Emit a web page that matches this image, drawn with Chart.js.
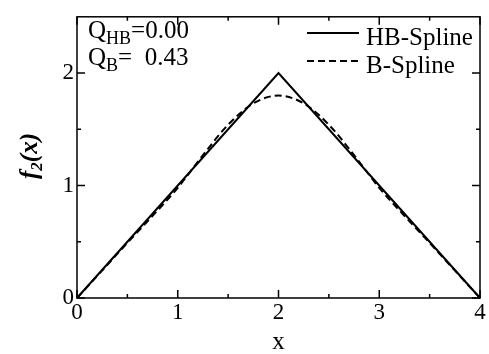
<!DOCTYPE html>
<html>
<head>
<meta charset="utf-8">
<script src="https://cdn.jsdelivr.net/npm/chart.js@4/dist/chart.umd.min.js"></script>
<style>
  html, body { margin: 0; padding: 0; background: #fff; }
  #wrap { width: 489px; height: 354px; }
</style>
</head>
<body>
<div id="wrap"><canvas id="c" width="489" height="354"></canvas></div>
<script>
// data
const hbX = [0, 2, 4];
const hbY = [0, 2, 0];
const bX = [0, 0.25, 0.5, 0.75, 1, 1.25, 1.5, 1.75, 2, 2.25, 2.5, 2.75, 3, 3.25, 3.5, 3.75, 4];
const bY = [0, 0.245, 0.49, 0.73, 0.98, 1.27, 1.54, 1.73, 1.80, 1.73, 1.54, 1.27, 0.98, 0.73, 0.49, 0.245, 0];
const xTicks = [0, 1, 2, 3, 4];
const yTicks = [0, 1, 2];
const xMinor = [0.5, 1.5, 2.5, 3.5];
const yMinor = [0.5, 1.5];
const seriesNames = ['HB-Spline', 'B-Spline'];
const qHB = '0.00';
const qB = '0.43';

const serif = "'Liberation Serif', 'DejaVu Serif', serif";

function pts(xs, ys) { return xs.map((x, i) => ({ x: x, y: ys[i] })); }

// frame, inward ticks, legend, annotations, y title
const decor = {
  id: 'decor',
  afterDraw(chart) {
    const ctx = chart.ctx;
    const a = chart.chartArea;
    const xs = chart.scales.x, ys = chart.scales.y;
    ctx.save();
    ctx.strokeStyle = '#000';
    ctx.lineWidth = 1.5;
    ctx.strokeRect(a.left, a.top, a.right - a.left, a.bottom - a.top);
    ctx.beginPath();
    const tick = (vals, len) => {
      vals.forEach(v => {
        const px = xs.getPixelForValue(v);
        ctx.moveTo(px, a.bottom); ctx.lineTo(px, a.bottom - len);
        ctx.moveTo(px, a.top); ctx.lineTo(px, a.top + len);
      });
    };
    const tickY = (vals, len) => {
      vals.forEach(v => {
        const py = ys.getPixelForValue(v);
        ctx.moveTo(a.left, py); ctx.lineTo(a.left + len, py);
        ctx.moveTo(a.right, py); ctx.lineTo(a.right - len, py);
      });
    };
    tick(xTicks, 8); tick(xMinor, 4);
    tickY(yTicks, 8); tickY(yMinor, 4);
    ctx.stroke();

    ctx.fillStyle = '#000';
    ctx.textBaseline = 'alphabetic';
    ctx.textAlign = 'left';

    // annotations with subscripts
    const big = '25px ' + serif, small = '18px ' + serif;
    let x = 88;
    ctx.font = big; ctx.fillText('Q', x, 38); x += ctx.measureText('Q').width;
    ctx.font = small; ctx.fillText('HB', x, 44); x += ctx.measureText('HB').width;
    ctx.font = big; ctx.fillText('=' + qHB, x, 38);
    x = 88;
    ctx.font = big; ctx.fillText('Q', x, 65); x += ctx.measureText('Q').width;
    ctx.font = small; ctx.fillText('B', x, 71); x += ctx.measureText('B').width;
    ctx.font = big; ctx.fillText('=  ' + qB, x, 65);

    // legend
    chart.data.datasets.forEach((ds, i) => {
      const ly = 33 + i * 28;
      ctx.beginPath();
      ctx.lineWidth = ds.borderWidth;
      ctx.setLineDash(ds.borderDash || []);
      ctx.moveTo(307, ly); ctx.lineTo(359, ly);
      ctx.stroke();
      ctx.setLineDash([]);
      ctx.font = big;
      ctx.fillText(ds.label, 366, ly + 12);
    });

    // y title f2(x)
    ctx.translate(37, 156);
    ctx.rotate(-Math.PI / 2);
    const t1 = 'f', t2 = '2', t3 = '(x)';
    ctx.font = 'italic bold 25px ' + serif;
    const w1 = ctx.measureText(t1).width, w3 = ctx.measureText(t3).width;
    ctx.font = 'italic bold 17px ' + serif;
    const w2 = ctx.measureText(t2).width;
    let tx = -(w1 + w2 + w3) / 2;
    ctx.font = 'italic bold 25px ' + serif;
    ctx.fillText(t1, tx, 0); tx += w1;
    ctx.font = 'italic bold 17px ' + serif;
    ctx.fillText(t2, tx, 5); tx += w2;
    ctx.font = 'italic bold 25px ' + serif;
    ctx.fillText(t3, tx, 0);
    ctx.restore();

    // x title
    ctx.save();
    ctx.fillStyle = '#000';
    ctx.font = big;
    ctx.textAlign = 'center';
    ctx.textBaseline = 'alphabetic';
    ctx.fillText('x', (a.left + a.right) / 2, 349);
    ctx.restore();
  }
};

new Chart(document.getElementById('c'), {
  type: 'line',
  data: {
    datasets: [
      {
        label: seriesNames[0],
        data: pts(hbX, hbY),
        borderColor: '#000',
        borderWidth: 2,
        pointRadius: 0,
        tension: 0,
        clip: 4
      },
      {
        label: seriesNames[1],
        data: pts(bX, bY),
        borderColor: '#000',
        borderWidth: 2,
        borderDash: [7, 4],
        pointRadius: 0,
        cubicInterpolationMode: 'monotone',
        clip: 4
      }
    ]
  },
  plugins: [decor],
  options: {
    responsive: false,
    animation: false,
    layout: { padding: { top: 10, right: 9, left: 0, bottom: 0 } },
    plugins: { legend: { display: false }, tooltip: { enabled: false } },
    scales: {
      x: {
        type: 'linear',
        min: 0, max: 4,
        afterBuildTicks: s => { s.ticks = xTicks.map(v => ({ value: v })); },
        afterFit: s => { s.height = 56; },
        grid: { display: false, drawTicks: false },
        border: { display: false },
        ticks: { color: '#000', padding: 1, font: { family: serif, size: 23 } }
      },
      y: {
        type: 'linear',
        min: 0, max: 2.5,
        afterBuildTicks: s => { s.ticks = yTicks.map(v => ({ value: v })); },
        afterFit: s => { s.width = 77; },
        grid: { display: false, drawTicks: false },
        border: { display: false },
        ticks: { color: '#000', padding: 3, font: { family: serif, size: 23 } }
      }
    }
  }
});
</script>
</body>
</html>
